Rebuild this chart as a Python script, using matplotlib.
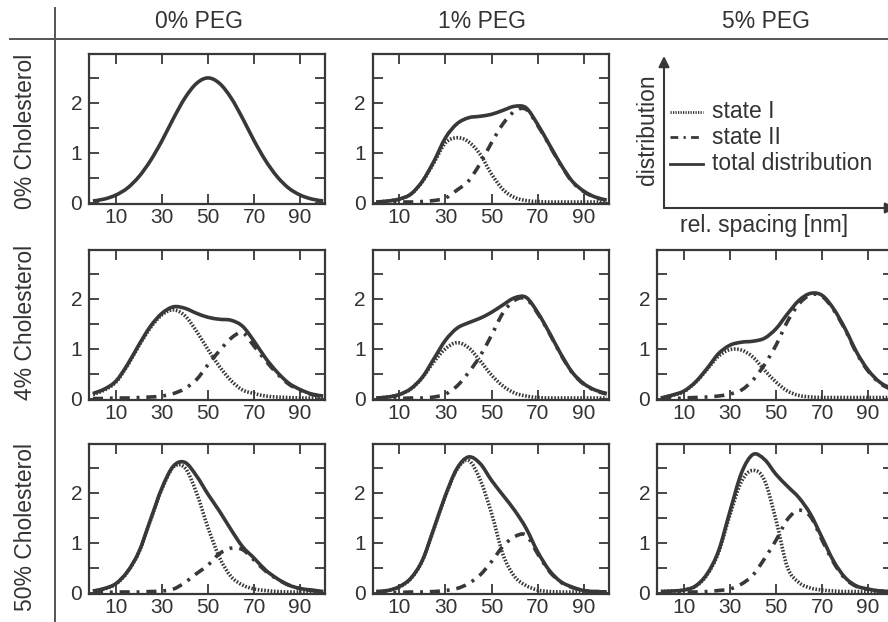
import matplotlib
matplotlib.use('Agg')
import matplotlib.pyplot as plt
from matplotlib.lines import Line2D
from matplotlib.patches import FancyArrowPatch, PathPatch
from matplotlib.path import Path

plt.rcParams['font.family'] = ['Liberation Sans', 'DejaVu Sans']

# ---------------- data ----------------
spacing = [0, 5, 10, 15, 20, 25, 30, 35, 40, 45, 50, 55, 60, 65, 70, 75, 80, 85, 90, 95, 100]

col_titles = ['0% PEG', '1% PEG', '5% PEG']
row_titles = ['0% Cholesterol', '4% Cholesterol', '50% Cholesterol']
x_ticks = [10, 30, 50, 70, 90]
y_ticks = [0, 1, 2]
y_minor = [0.5, 1.5, 2.5]
legend_labels = ['state I', 'state II', 'total distribution']
axis_sketch_y = 'distribution'
axis_sketch_x = 'rel. spacing [nm]'

# 0% cholesterol, 0% PEG
total_c0_p0 = [0.03, 0.07, 0.15, 0.29, 0.52, 0.84, 1.24, 1.69, 2.10, 2.39, 2.50,
               2.39, 2.10, 1.69, 1.24, 0.84, 0.52, 0.29, 0.15, 0.07, 0.03]

# 0% cholesterol, 1% PEG
state1_c0_p1 = [0.01, 0.03, 0.07, 0.17, 0.42, 0.80, 1.20, 1.30, 1.22, 0.97, 0.57,
                0.26, 0.10, 0.04, 0.02, 0.01, 0.01, 0.01, 0.01, 0.01, 0.01]
state2_c0_p1 = [0.00, 0.00, 0.01, 0.01, 0.02, 0.04, 0.09, 0.25, 0.43, 0.78, 1.20,
                1.58, 1.83, 1.87, 1.55, 1.16, 0.76, 0.42, 0.22, 0.10, 0.04]
total_c0_p1 = [0.01, 0.03, 0.07, 0.17, 0.43, 0.83, 1.30, 1.58, 1.70, 1.73, 1.77,
               1.85, 1.93, 1.90, 1.57, 1.17, 0.77, 0.43, 0.23, 0.11, 0.05]

# 4% cholesterol, 0% PEG
state1_c4_p0 = [0.08, 0.17, 0.33, 0.66, 1.06, 1.42, 1.68, 1.78, 1.66, 1.35, 0.98,
                0.64, 0.36, 0.17, 0.10, 0.05, 0.03, 0.02, 0.01, 0.01, 0.01]
state2_c4_p0 = [0.00, 0.00, 0.01, 0.01, 0.02, 0.03, 0.05, 0.10, 0.20, 0.38, 0.68,
                0.96, 1.21, 1.32, 1.05, 0.76, 0.50, 0.29, 0.17, 0.08, 0.04]
total_c4_p0 = [0.10, 0.19, 0.35, 0.68, 1.08, 1.45, 1.71, 1.84, 1.81, 1.71, 1.63,
               1.59, 1.57, 1.45, 1.15, 0.81, 0.53, 0.31, 0.18, 0.09, 0.05]

# 4% cholesterol, 1% PEG
state1_c4_p1 = [0.01, 0.03, 0.08, 0.19, 0.42, 0.74, 1.00, 1.12, 1.02, 0.76, 0.47,
                0.25, 0.11, 0.05, 0.02, 0.01, 0.01, 0.01, 0.01, 0.01, 0.01]
state2_c4_p1 = [0.00, 0.00, 0.00, 0.01, 0.01, 0.03, 0.09, 0.25, 0.52, 0.85, 1.27,
                1.72, 1.97, 2.00, 1.71, 1.32, 0.89, 0.52, 0.29, 0.16, 0.09]
total_c4_p1 = [0.01, 0.03, 0.08, 0.20, 0.43, 0.80, 1.17, 1.41, 1.52, 1.61, 1.73,
               1.88, 2.02, 2.03, 1.73, 1.33, 0.90, 0.53, 0.30, 0.17, 0.10]

# 4% cholesterol, 5% PEG
state1_c4_p5 = [0.01, 0.06, 0.14, 0.32, 0.58, 0.85, 0.98, 0.97, 0.83, 0.57, 0.33,
                0.15, 0.06, 0.03, 0.02, 0.02, 0.02, 0.02, 0.02, 0.02, 0.02]
state2_c4_p5 = [0.00, 0.00, 0.01, 0.02, 0.03, 0.05, 0.09, 0.17, 0.37, 0.68, 1.07,
                1.55, 1.90, 2.08, 2.05, 1.78, 1.38, 0.91, 0.55, 0.31, 0.18]
total_c4_p5 = [0.01, 0.07, 0.15, 0.33, 0.60, 0.90, 1.07, 1.13, 1.15, 1.21, 1.40,
               1.70, 1.97, 2.11, 2.07, 1.80, 1.40, 0.93, 0.57, 0.33, 0.20]

# 50% cholesterol, 0% PEG
state1_c50_p0 = [0.03, 0.07, 0.17, 0.41, 0.81, 1.45, 2.08, 2.52, 2.50, 2.00, 1.30,
                 0.70, 0.32, 0.15, 0.07, 0.04, 0.02, 0.01, 0.01, 0.01, 0.01]
state2_c50_p0 = [0.00, 0.00, 0.01, 0.01, 0.01, 0.02, 0.03, 0.07, 0.20, 0.38, 0.55,
                 0.78, 0.89, 0.86, 0.65, 0.43, 0.27, 0.15, 0.08, 0.04, 0.02]
total_c50_p0 = [0.03, 0.08, 0.18, 0.42, 0.82, 1.46, 2.10, 2.54, 2.61, 2.34, 1.97,
                1.63, 1.26, 0.92, 0.69, 0.45, 0.28, 0.15, 0.08, 0.05, 0.02]

# 50% cholesterol, 1% PEG
state1_c50_p1 = [0.02, 0.04, 0.11, 0.28, 0.64, 1.28, 1.94, 2.47, 2.65, 2.27, 1.59,
                 0.76, 0.32, 0.14, 0.05, 0.02, 0.01, 0.01, 0.01, 0.01, 0.01]
state2_c50_p1 = [0.00, 0.00, 0.00, 0.01, 0.01, 0.02, 0.04, 0.08, 0.18, 0.35, 0.62,
                 0.93, 1.12, 1.15, 0.78, 0.43, 0.21, 0.10, 0.04, 0.02, 0.01]
total_c50_p1 = [0.02, 0.04, 0.12, 0.29, 0.65, 1.29, 1.95, 2.49, 2.72, 2.59, 2.25,
                1.95, 1.65, 1.29, 0.82, 0.45, 0.22, 0.11, 0.04, 0.02, 0.01]

# 50% cholesterol, 5% PEG
state1_c50_p5 = [0.02, 0.03, 0.05, 0.12, 0.35, 0.80, 1.56, 2.23, 2.45, 2.25, 1.45,
                 0.50, 0.20, 0.09, 0.05, 0.03, 0.02, 0.02, 0.02, 0.02, 0.02]
state2_c50_p5 = [0.00, 0.00, 0.01, 0.01, 0.02, 0.04, 0.07, 0.17, 0.35, 0.68, 1.05,
                 1.47, 1.65, 1.52, 1.05, 0.60, 0.28, 0.12, 0.06, 0.03, 0.01]
total_c50_p5 = [0.02, 0.03, 0.05, 0.13, 0.37, 0.83, 1.63, 2.40, 2.77, 2.67, 2.37,
                2.13, 1.90, 1.57, 1.10, 0.63, 0.30, 0.13, 0.07, 0.03, 0.02]

panels = {
    (0, 0): (None, None, total_c0_p0),
    (0, 1): (state1_c0_p1, state2_c0_p1, total_c0_p1),
    (1, 0): (state1_c4_p0, state2_c4_p0, total_c4_p0),
    (1, 1): (state1_c4_p1, state2_c4_p1, total_c4_p1),
    (1, 2): (state1_c4_p5, state2_c4_p5, total_c4_p5),
    (2, 0): (state1_c50_p0, state2_c50_p0, total_c50_p0),
    (2, 1): (state1_c50_p1, state2_c50_p1, total_c50_p1),
    (2, 2): (state1_c50_p5, state2_c50_p5, total_c50_p5),
}

# ---------------- layout / style ----------------
W, H = 888, 622
INK = '#383838'
TXT = '#333333'
LW = 2.6
DOT = (0, (0.45, 0.45))
DASHDOT = (0, (2.8, 1.9, 0.8, 1.9))


def smooth_path(xs, ys):
    """Bezier path passing through the read points (rendering only)."""
    pts = list(zip(xs, ys))
    n = len(pts)
    verts = [pts[0]]
    codes = [Path.MOVETO]
    for i in range(n - 1):
        p0 = pts[max(i - 1, 0)]
        p1 = pts[i]
        p2 = pts[i + 1]
        p3 = pts[min(i + 2, n - 1)]
        c1 = (p1[0] + (p2[0] - p0[0]) / 6, p1[1] + (p2[1] - p0[1]) / 6)
        c2 = (p2[0] - (p3[0] - p1[0]) / 6, p2[1] - (p3[1] - p1[1]) / 6)
        verts += [c1, c2, p2]
        codes += [Path.CURVE4] * 3
    return Path(verts, codes)


def draw_curve(ax, ys, ls):
    ax.add_patch(PathPatch(smooth_path(spacing, ys), fill=False, edgecolor=INK,
                           lw=LW, ls=ls, joinstyle='round', capstyle='butt'))


fig = plt.figure(figsize=(W / 100, H / 100), dpi=100)


def fx(px):
    return px / W


def fy(py):
    return 1 - py / H


col_left = [89, 372.5, 657]
row_top = [54, 250, 444]
pw, ph = 236, 150

for (r, c), (s1, s2, tot) in panels.items():
    ax = fig.add_axes([fx(col_left[c]), fy(row_top[r] + ph), pw / W, ph / H])
    if s1 is not None:
        draw_curve(ax, s1, DOT)
    if s2 is not None:
        draw_curve(ax, s2, DASHDOT)
    draw_curve(ax, tot, '-')
    ax.set_xlim(-1.7, 100.8)
    ax.set_ylim(-0.03, 2.98)
    ax.set_xticks(x_ticks)
    ax.set_yticks(y_ticks)
    ax.set_yticks(y_minor, minor=True)
    ax.tick_params(which='both', direction='in', length=7, width=1.3, color=INK,
                   top=True, right=True, labelsize=15, labelcolor=TXT)
    ax.tick_params(axis='x', pad=3)
    ax.tick_params(axis='y', pad=5)
    for sp in ax.spines.values():
        sp.set_linewidth(1.6)
        sp.set_color(INK)

# column and row headings
col_centers = [199, 482, 766]
for t, cx in zip(col_titles, col_centers):
    fig.text(fx(cx), fy(22), t, ha='center', va='center', fontsize=16.5, color=TXT)
row_centers = [131, 322, 527]
for t, cy in zip(row_titles, row_centers):
    fig.text(fx(25), fy(cy), t, ha='center', va='center', rotation=90,
             fontsize=16.5, color=TXT)

# separator lines
fig.add_artist(Line2D([fx(10), fx(W)], [fy(39), fy(39)], transform=fig.transFigure,
                      color='#555555', lw=1.4))
fig.add_artist(Line2D([fx(55), fx(55)], [fy(8), fy(H)], transform=fig.transFigure,
                      color='#555555', lw=1.4))

# legend panel: sketch of axes
fig.add_artist(FancyArrowPatch((fx(664), fy(208)), (fx(664), fy(56)),
                               transform=fig.transFigure, arrowstyle='-|>',
                               mutation_scale=16, lw=1.5, color=INK,
                               shrinkA=0, shrinkB=0))
fig.add_artist(FancyArrowPatch((fx(664), fy(208)), (fx(896), fy(208)),
                               transform=fig.transFigure, arrowstyle='-|>',
                               mutation_scale=16, lw=1.5, color=INK,
                               shrinkA=0, shrinkB=0))
fig.text(fx(647), fy(130), axis_sketch_y, ha='center', va='center', rotation=90,
         fontsize=16.5, color=TXT)
fig.text(fx(764), fy(226), axis_sketch_x, ha='center', va='center',
         fontsize=16.5, color=TXT)

leg_styles = [DOT, DASHDOT, '-']
leg_y = [112, 137, 164]
for lab, st, ly in zip(legend_labels, leg_styles, leg_y):
    fig.add_artist(Line2D([fx(670), fx(703)], [fy(ly), fy(ly)],
                          transform=fig.transFigure, color=INK, lw=2.0, ls=st))
    fig.text(fx(712), fy(ly), lab, ha='left', va='center', fontsize=16.5, color=TXT)

fig.savefig('out.png', dpi=100)
